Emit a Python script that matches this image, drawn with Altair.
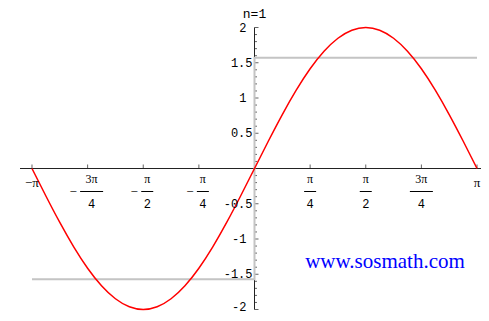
import altair as alt
import pandas as pd
import numpy as np

PI = float(np.pi)

curve_k = list(range(-16, 17))
curve_y = [0.0, -0.3902, -0.7654, -1.1111, -1.4142, -1.6629, -1.8478, -1.9616, -2.0,
           -1.9616, -1.8478, -1.6629, -1.4142, -1.1111, -0.7654, -0.3902, 0.0,
           0.3902, 0.7654, 1.1111, 1.4142, 1.6629, 1.8478, 1.9616, 2.0,
           1.9616, 1.8478, 1.6629, 1.4142, 1.1111, 0.7654, 0.3902, 0.0]

# gray target function (square wave)
square_x = [-PI, 0.0, 0.0, PI]
square_y = [-1.571, -1.571, 1.571, 1.571]

# x ticks in quarters of pi
xtick_mult = [-4, -3, -2, -1, 1, 2, 3, 4]
xtick_sign = ["−", "−", "−", "−", "", "", "", ""]
xtick_num = ["π", "3π", "π", "π", "π", "π", "3π", "π"]
xtick_den = ["", "4", "2", "4", "4", "2", "4", ""]

ytick_major = [-2, -1.5, -1, -0.5, 0.5, 1, 1.5, 2]
ytick_labels = ["-2", "-1.5", "-1", "-0.5", "0.5", "1", "1.5", "2"]

title_text = "n=1"
credit_text = "www.sosmath.com"

# ---- layout helpers ----
PXX = 70.83   # px per x unit
PXY = 70.5    # px per y unit
W, H = 473, 305
X0, Y0 = 246.5, 160.5   # position of the origin inside the plot area
xs = alt.Scale(domain=[-X0 / PXX, (W - X0) / PXX], nice=False, zero=False)
ys = alt.Scale(domain=[(Y0 - H) / PXY, Y0 / PXY], nice=False, zero=False)

def X(f="x"):
    return alt.X(f"{f}:Q", scale=xs, axis=None)

def Y(f="y"):
    return alt.Y(f"{f}:Q", scale=ys, axis=None)

AX = "#222222"

curve_df = pd.DataFrame({"x": [k * PI / 16 for k in curve_k], "y": curve_y})
square_df = pd.DataFrame({"x": square_x, "y": square_y, "o": list(range(len(square_x)))})

xt = pd.DataFrame({"x": [m * PI / 4 for m in xtick_mult], "sign": xtick_sign,
                   "num": xtick_num, "den": xtick_den, "y": 0.0})
xt["txt"] = xt["sign"] + xt["num"]
singles = xt[xt["den"] == ""].copy()
fr = xt[xt["den"] != ""].copy()
fr["xc"] = fr["x"] + np.where(fr["sign"] != "", 4 / PXX, 0.0)
half = np.where(fr["num"].str.len() > 1, 11.5, 6.0) / PXX
fr["bl"] = fr["xc"] - half
fr["br"] = fr["xc"] + half
fr["xm"] = fr["bl"] - 7 / PXX
neg = fr[fr["sign"] != ""]

ymaj = pd.DataFrame({"y": ytick_major, "lab": ytick_labels, "x": 0.0})
ydec = ymaj[ymaj["lab"].str.contains(r"\.")]
yint = ymaj[~ymaj["lab"].str.contains(r"\.") & (ymaj["y"] > min(ytick_major))]
ylow = ymaj[ymaj["y"] == min(ytick_major)]
minor_vals = [round(-2 + 0.1 * i, 1) for i in range(41)]
minor_vals = [v for v in minor_vals if abs(v * 2 - round(v * 2)) > 1e-9]
ymin = pd.DataFrame({"y": minor_vals, "x": 0.0})

xaxis = alt.Chart(pd.DataFrame({"x": [-234.5 / PXX], "x2": [(W - X0) / PXX], "y": [0.0]})).mark_rule(
    color=AX, strokeWidth=1).encode(x=X(), x2="x2:Q", y=Y())
xticks = alt.Chart(xt).mark_tick(orient="vertical", size=4, thickness=1, yOffset=-2, color=AX).encode(
    x=X(), y=Y())
yaxis = alt.Chart(pd.DataFrame({"x": [0.0], "y": [-2.0], "y2": [2.0]})).mark_rule(
    color=AX, strokeWidth=1).encode(x=X(), y=Y(), y2="y2:Q")
yticks = alt.Chart(ymaj).mark_tick(orient="horizontal", size=4, thickness=1, xOffset=2, color=AX).encode(
    x=X(), y=Y())
yminor = alt.Chart(ymin).mark_tick(orient="horizontal", size=2.5, thickness=1, xOffset=1.25, color=AX).encode(
    x=X(), y=Y())

square = alt.Chart(square_df).mark_line(color="#c4c4c4", strokeWidth=2).encode(
    x=X(), y=Y(), order="o:Q")
curve = alt.Chart(curve_df).mark_line(color="#ff0000", strokeWidth=1.5, interpolate="natural").encode(
    x=X(), y=Y())

single_lab = alt.Chart(singles).mark_text(dy=14, font="Liberation Serif", fontSize=13, color="black",
                                          baseline="middle").encode(x=X(), y=Y(), text="txt:N")
num_lab = alt.Chart(fr).mark_text(dy=10, font="Liberation Serif", fontSize=12, color="black",
                                  baseline="middle").encode(x=X("xc"), y=Y(), text="num:N")
bars = alt.Chart(fr).mark_rule(yOffset=23, strokeWidth=1, color="black").encode(
    x=X("bl"), x2="br:Q", y=Y())
den_lab = alt.Chart(fr).mark_text(dy=35, font="Liberation Mono", fontSize=12, color="black",
                                  baseline="middle").encode(x=X("xc"), y=Y(), text="den:N")
minus_lab = alt.Chart(neg).mark_text(dy=23, font="Liberation Serif", fontSize=13, color="black",
                                     baseline="middle").encode(x=X("xm"), y=Y(), text="sign:N")

ydec_lab = alt.Chart(ydec).mark_text(dx=-2, align="right", baseline="middle", font="Liberation Mono",
                                     fontSize=12, color="black").encode(x=X(), y=Y(), text="lab:N")
yint_lab = alt.Chart(yint).mark_text(dx=-8, align="right", baseline="middle", font="Liberation Mono",
                                     fontSize=12, color="black").encode(x=X(), y=Y(), text="lab:N")
ylow_lab = alt.Chart(ylow).mark_text(dx=-8, dy=-3, align="right", baseline="middle", font="Liberation Mono",
                                     fontSize=12, color="black").encode(x=X(), y=Y(), text="lab:N")

title = alt.Chart(pd.DataFrame({"x": [0.0], "y": [2.0], "t": [title_text]})).mark_text(
    dy=-14, font="Liberation Mono", fontSize=13, color="black", baseline="middle").encode(
    x=X(), y=Y(), text="t:N")
credit = alt.Chart(pd.DataFrame({"t": [credit_text]})).mark_text(
    font="Liberation Serif", fontSize=21, color="#0000ff", baseline="middle").encode(
    x=alt.value(377), y=alt.value(254), text="t:N")

chart = alt.layer(
    xaxis, xticks, yaxis, yticks, yminor, square, curve,
    single_lab, num_lab, bars, den_lab, minus_lab, ydec_lab, yint_lab, ylow_lab, title, credit
).properties(
    width=W, height=H, padding=0, autosize=alt.AutoSizeParams(type="none")
).configure_view(stroke=None)

chart.save("out.html", embed_options={"renderer": "svg", "actions": False})
